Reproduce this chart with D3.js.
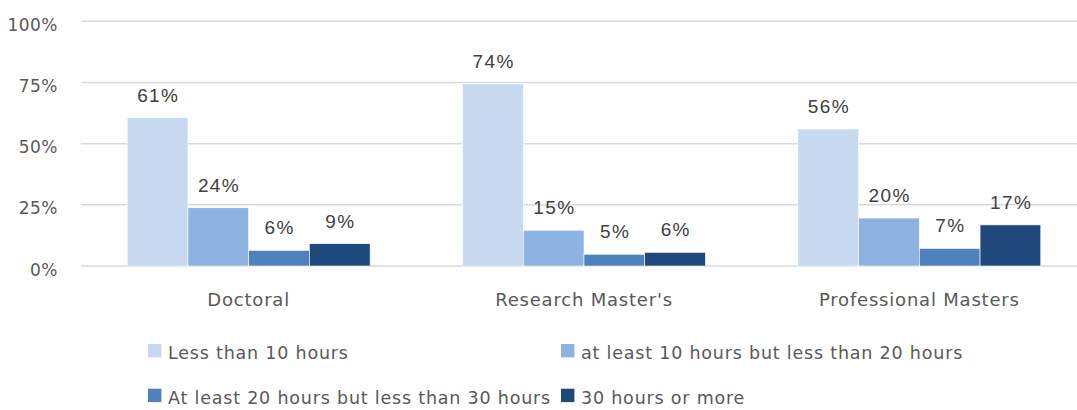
<!DOCTYPE html>
<html>
<head>
<meta charset="utf-8">
<script src="https://cdn.jsdelivr.net/npm/d3@7"></script>
<style>
  html, body { margin: 0; padding: 0; background: #fff; }
  svg { display: block; }
</style>
</head>
<body>
<svg id="chart" width="1077" height="410"></svg>
<script>
const categories = ["Doctoral", "Research Master's", "Professional Masters"];
const seriesNames = [
  "Less than 10 hours",
  "at least 10 hours but less than 20 hours",
  "At least 20 hours but less than 30 hours",
  "30 hours or more"
];
const lessThan10 = [0.606, 0.744, 0.560];
const from10to20 = [0.238, 0.146, 0.196];
const from20to30 = [0.064, 0.048, 0.072];
const over30 = [0.091, 0.056, 0.168];
const yTicks = [0, 0.25, 0.5, 0.75, 1];
const colors = ["#C6D9F1", "#8DB3E2", "#4F81BD", "#1F497D"];

const seriesValues = [lessThan10, from10to20, from20to30, over30];

const svg = d3.select("#chart");
const fontFamily = "'DejaVu Sans', sans-serif";
const labelFont = "'Liberation Sans', Arial, sans-serif";

const x0 = d3.scaleBand().domain(categories).range([81, 1087]).paddingInner(0).paddingOuter(0);
const x1 = d3.scaleBand().domain(seriesNames).range([0, x0.bandwidth()]).paddingInner(0).paddingOuter(0.761);
const y = d3.scaleLinear().domain([0, 1]).range([266, 21.3]);
const fmt = d3.format(".0%");

// gridlines
svg.append("g").selectAll("line").data(yTicks).join("line")
  .attr("x1", 81).attr("x2", 1087)
  .attr("y1", d => y(d)).attr("y2", d => y(d))
  .attr("stroke", "#D9D9D9").attr("stroke-width", 1.5);

// y tick labels
svg.append("g").selectAll("text").data(yTicks).join("text")
  .attr("x", 58).attr("y", d => y(d) + 9.5)
  .attr("text-anchor", "end")
  .attr("font-family", fontFamily).attr("font-size", 17)
  .attr("letter-spacing", 0.5)
  .attr("fill", "#595959")
  .text(d => fmt(d));

// bars
const groups = svg.append("g").selectAll("g").data(categories).join("g")
  .attr("transform", c => `translate(${x0(c)},0)`);

groups.each(function(c, ci) {
  const g = d3.select(this);
  const data = seriesNames.map((s, si) => ({ s, si, v: seriesValues[si][ci] }));
  g.selectAll("rect").data(data).join("rect")
    .attr("x", d => x1(d.s))
    .attr("width", x1.bandwidth())
    .attr("y", d => y(d.v))
    .attr("height", d => y(0) - y(d.v))
    .attr("fill", d => colors[d.si])
    .attr("stroke", "#ffffff").attr("stroke-width", 0.6);
  g.selectAll("text").data(data).join("text")
    .attr("x", d => x1(d.s) + x1.bandwidth() / 2 + 0.7)
    .attr("y", d => y(d.v) - 16)
    .attr("text-anchor", "middle")
    .attr("font-family", labelFont).attr("font-size", 19)
    .attr("letter-spacing", 1.4)
    .attr("fill", "#404040")
    .text(d => fmt(d.v));
});

// category labels
svg.append("g").selectAll("text").data(categories).join("text")
  .attr("x", c => x0(c) + x0.bandwidth() / 2)
  .attr("y", 305.5)
  .attr("text-anchor", "middle")
  .attr("font-family", fontFamily).attr("font-size", 18)
  .attr("letter-spacing", 0.8)
  .attr("fill", "#595959")
  .text(c => c);

// legend
const legendPos = [
  { x: 148, y: 359.3 },
  { x: 561, y: 359.3 },
  { x: 148, y: 404 },
  { x: 561, y: 404 }
];
const leg = svg.append("g").selectAll("g").data(seriesNames).join("g")
  .attr("transform", (d, i) => `translate(${legendPos[i].x},${legendPos[i].y})`);
leg.append("rect")
  .attr("x", 0).attr("y", -15.3).attr("width", 13.4).attr("height", 13.4)
  .attr("fill", (d, i) => colors[i]);
leg.append("text")
  .attr("x", 20).attr("y", 0)
  .attr("font-family", fontFamily).attr("font-size", 17.5)
  .attr("letter-spacing", 0.8)
  .attr("fill", "#595959")
  .text(d => d);
</script>
</body>
</html>
